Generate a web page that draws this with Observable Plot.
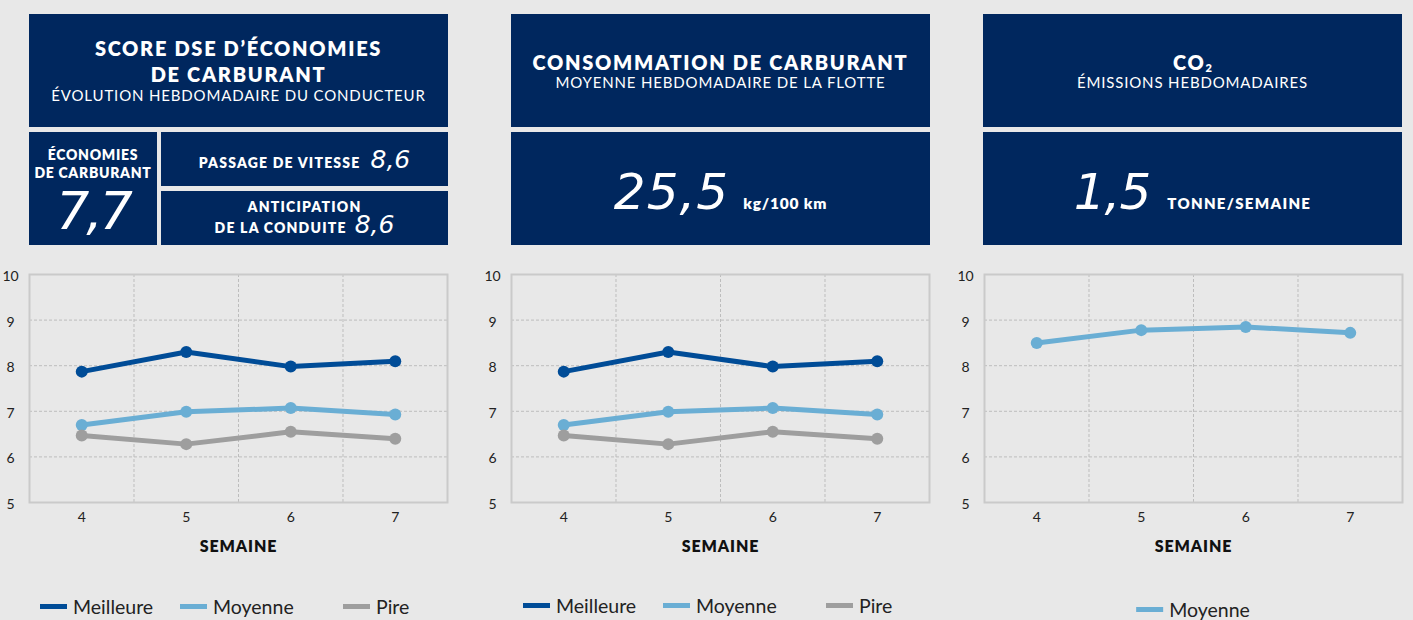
<!DOCTYPE html>
<html><head><meta charset="utf-8">
<script src="https://cdn.jsdelivr.net/npm/d3@7"></script>
<script src="https://cdn.jsdelivr.net/npm/@observablehq/plot@0.6"></script>
<style>
  html,body{margin:0;padding:0;background:#e8e8e8;}
  #root{position:relative;width:1413px;height:620px;overflow:hidden;background:#e8e8e8;font-family:Lato,"Noto Sans",sans-serif;}
  .box{position:absolute;background:#00275e;color:#fff;display:flex;flex-direction:column;align-items:center;justify-content:center;text-align:center;box-sizing:border-box;}
  .t{font-weight:800;font-size:20px;line-height:26px;letter-spacing:1.7px;white-space:nowrap;}
  .s{font-weight:400;font-size:15px;line-height:16px;letter-spacing:0.85px;white-space:nowrap;}
  .lb{font-weight:800;font-size:14px;line-height:18px;letter-spacing:1.2px;white-space:nowrap;}
  .big{font-family:"DejaVu Sans",sans-serif;font-weight:200;font-style:italic;line-height:1;}
  .row{display:flex;align-items:baseline;justify-content:center;}
  .legend{position:absolute;display:flex;align-items:center;font-size:19.5px;color:#222;white-space:nowrap;}
  .legend .it{display:flex;align-items:center;}
  .legend .sw{width:27px;height:5px;margin-right:6px;}
</style>
</head><body><div id="root"></div>
<script>
// ---- data ----
const weeks = [4, 5, 6, 7];
const seriesNames = ["Meilleure", "Moyenne", "Pire"];
const seriesColors = ["#004c97", "#6aaed4", "#9e9e9e"];
const meilleure = [7.87, 8.3, 7.98, 8.1];
const moyenne = [6.7, 6.99, 7.07, 6.93];
const pire = [6.47, 6.28, 6.55, 6.4];
const co2Moyenne = [8.5, 8.78, 8.85, 8.72];
const yTicks = [5, 6, 7, 8, 9, 10];
const xLabel = "SEMAINE";

const kpiTitle1 = ["SCORE DSE D’ÉCONOMIES", "DE CARBURANT"];
const kpiSub1 = "ÉVOLUTION HEBDOMADAIRE DU CONDUCTEUR";
const kpiEco = ["ÉCONOMIES", "DE CARBURANT"];
const kpiEcoValue = "7,7";
const kpiPassage = "PASSAGE DE VITESSE";
const kpiPassageValue = "8,6";
const kpiAnticipation = ["ANTICIPATION", "DE LA CONDUITE"];
const kpiAnticipationValue = "8,6";
const kpiTitle2 = "CONSOMMATION DE CARBURANT";
const kpiSub2 = "MOYENNE HEBDOMADAIRE DE LA FLOTTE";
const kpiConsoValue = "25,5";
const kpiConsoUnit = "kg/100 km";
const kpiSub3 = "ÉMISSIONS HEBDOMADAIRES";
const kpiCo2Value = "1,5";
const kpiCo2Unit = "TONNE/SEMAINE";

// ---- layout ----
const root = document.getElementById("root");
function box(left, top, w, h, html, extra){
  const d = document.createElement("div");
  d.className = "box";
  Object.assign(d.style,{left:left+"px",top:top+"px",width:w+"px",height:h+"px"}, extra||{});
  d.innerHTML = html;
  root.appendChild(d);
  return d;
}
// panel 1
box(29,14,419,113,`<div class="t">${kpiTitle1[0]}</div><div class="t">${kpiTitle1[1]}</div><div class="s">${kpiSub1}</div>`, {paddingBottom:"3px"});
box(29,132,128,113,`<div style="margin-top:6px;letter-spacing:0.7px" class="lb">${kpiEco[0]}</div><div class="lb" style="letter-spacing:0.7px">${kpiEco[1]}</div><div class="big" style="font-size:52px;letter-spacing:-3px;margin-top:3px">${kpiEcoValue}</div>`);
box(161,132,287,54,`<div class="row"><span class="lb">${kpiPassage}</span><span class="big" style="font-size:25px;margin-left:10px;letter-spacing:0px">${kpiPassageValue}</span></div>`);
box(161,191,287,54,`<div class="lb" style="margin-top:-2px">${kpiAnticipation[0]}</div><div class="row" style="margin-top:-4px"><span class="lb">${kpiAnticipation[1]}</span><span class="big" style="font-size:25px;margin-left:8px;letter-spacing:0px">${kpiAnticipationValue}</span></div>`);
// panel 2
box(511,14,419,113,`<div class="t" style="line-height:22px">${kpiTitle2}</div><div class="s" style="line-height:18px">${kpiSub2}</div>`);
box(511,132,419,113,`<div class="row" style="margin-top:6px"><span class="big" style="font-size:50px;letter-spacing:1px">${kpiConsoValue}</span><span class="lb" style="margin-left:14px;font-size:15.5px;letter-spacing:0.8px">${kpiConsoUnit}</span></div>`);
// panel 3
box(983,14,419,113,`<div class="t" style="line-height:22px;height:22px">CO<span style="font-size:11px;vertical-align:-2px;letter-spacing:0;line-height:0">2</span></div><div class="s" style="line-height:18px">${kpiSub3}</div>`);
box(983,132,419,113,`<div class="row" style="margin-top:6px"><span class="big" style="font-size:50px;letter-spacing:-1px">${kpiCo2Value}</span><span class="lb" style="margin-left:17px;font-size:15px;letter-spacing:1.3px">${kpiCo2Unit}</span></div>`);

// ---- charts ----
function makeChart(frameLeft, seriesList){
  const rows = [];
  for (const s of seriesList) s.values.forEach((v,i)=>rows.push({week:weeks[i], value:v, serie:s.name}));
  const gridX = d3.pairs(weeks).map(([a,b])=>(a+b)/2);
  const plot = Plot.plot({
    width: 470, height: 300,
    marginLeft: 29, marginRight: 23, marginTop: 14, marginBottom: 58,
    style: {background:"transparent", fontFamily:"Lato, sans-serif", fontSize:"14px", color:"#222", overflow:"visible"},
    x: {type:"linear", domain:[weeks[0]-0.5, weeks[weeks.length-1]+0.5]},
    y: {domain:[yTicks[0], yTicks[yTicks.length-1]]},
    color: {domain: seriesNames, range: seriesColors},
    marks: [
      Plot.gridY(yTicks.slice(1,-1), {stroke:"#bdbdbd", strokeOpacity:1, strokeDasharray:"3,2"}),
      Plot.gridX(gridX, {stroke:"#bdbdbd", strokeOpacity:1, strokeDasharray:"3,2"}),
      Plot.frame({stroke:"#cacaca", strokeWidth:2}),
      Plot.axisX(weeks, {tickSize:0, tickPadding:10, label:null, tickFormat:d=>String(d), fontSize:14}),
      Plot.axisY(yTicks, {tickSize:0, tickPadding:19, textAnchor:"middle", label:null, dy:2, fontSize:14}),
      Plot.text([xLabel], {frameAnchor:"bottom", dy:49, fontWeight:800, fontSize:16, fill:"#111", text:d=>d}),
      Plot.line(rows, {x:"week", y:"value", z:"serie", stroke:"serie", strokeWidth:5}),
      Plot.dot(rows, {x:"week", y:"value", fill:"serie", r:6})
    ]
  });
  plot.style.left = (frameLeft-29)+"px";
  plot.style.top = "260px";
  plot.style.position = "absolute";
  plot.querySelectorAll("text").forEach(t=>{ if (t.textContent===xLabel) t.setAttribute("letter-spacing","0.9"); });
  root.appendChild(plot);
}
function legend(left, top, names, widths, center){
  const d = document.createElement("div");
  d.className = "legend";
  d.style.top = top+"px";
  if (center !== undefined){ d.style.left = center+"px"; d.style.transform="translateX(-50%)"; }
  else d.style.left = left+"px";
  names.forEach((n,i)=>{
    const it = document.createElement("div");
    it.className="it";
    if (widths && widths[i]) it.style.width = widths[i]+"px";
    const c = seriesColors[seriesNames.indexOf(n)];
    it.innerHTML = `<div class="sw" style="background:${c}"></div><span>${n}</span>`;
    d.appendChild(it);
  });
  root.appendChild(d);
}
const trio = [{name:"Meilleure", values:meilleure},{name:"Moyenne", values:moyenne},{name:"Pire", values:pire}];
makeChart(29, trio);
makeChart(511, trio);
makeChart(984, [{name:"Moyenne", values:co2Moyenne}]);
legend(40, 595, seriesNames, [140,163,0]);
legend(523, 594, seriesNames, [140,163,0]);
legend(0, 598, ["Moyenne"], null, 1193);
</script></body></html>
